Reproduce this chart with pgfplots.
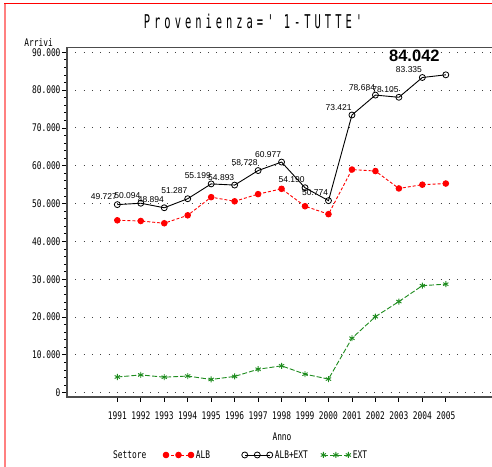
\documentclass[border=0pt]{standalone}
\usepackage{pgfplots}
\pgfplotsset{compat=1.18}
\usepackage{fontspec}
\setmainfont{Liberation Sans}
\newfontfamily\monofont[FakeStretch=0.75]{DejaVu Sans Mono}
\newfontfamily\titlefont[FakeStretch=0.55, LetterSpace=21]{DejaVu Sans Mono}
\definecolor{albred}{RGB}{255,0,0}
\definecolor{extgreen}{RGB}{30,140,30}
\definecolor{borderpink}{RGB}{255,128,128}
\newcommand{\tickfont}{\monofont\fontsize{10.5bp}{11bp}\selectfont}
\begin{document}
\begin{tikzpicture}[x=1bp,y=1bp]
\useasboundingbox (0,0) rectangle (492,467);
\clip (0,0) rectangle (492,467);
\fill[white] (0,0) rectangle (492,467);
\draw[borderpink, line width=2bp] (5,0) -- (5,463.5);
\draw[albred, line width=1bp] (4,463.5) -- (492,463.5);
\node[anchor=west, font=\tickfont, inner sep=0pt] at (113,12) {Settore};
\begin{axis}[
  at={(67bp,70bp)}, anchor=south west, scale only axis,
  width=433bp, height=349.3bp,
  xmin=1988.856, xmax=2007.31, ymin=-1137, ymax=91216,
  axis line style={gray!60!black, line width=1.1bp},
  xtick={1991,...,2005}, minor x tick num=3,
  ytick={0,10000,...,90000}, minor y tick num=4,
  tick align=outside, tick pos=left,
  major tick length=5bp, minor tick length=3bp,
  tick style={black, line width=0.8bp},
  scaled y ticks=false,
  ymajorgrids,
  grid style={black!75, line width=0.9bp, dash pattern=on 1bp off 7.3bp},
  ticklabel style={font=\tickfont, /pgf/number format/assume math mode=true},
  xticklabel style={yshift=-6bp, /pgf/number format/.cd, 1000 sep={}},
  yticklabel style={xshift=2bp, /pgf/number format/.cd, 1000 sep={.}, fixed, precision=0},
  title={Provenienza=' 1-TUTTE'},
  title style={font=\titlefont\fontsize{19bp}{19bp}\selectfont, at={(axis description cs:0.4296,1.0593)}, anchor=center, inner sep=0pt},
  xlabel={Anno},
  xlabel style={font=\tickfont, at={(axis description cs:0.4965,-0.1145)}, anchor=center, inner sep=0pt},
  ylabel={Arrivi},
  ylabel style={font=\tickfont, rotate=-90, at={(axis description cs:-0.0323,1.003)}, anchor=south east, inner sep=0pt},
  legend columns=3,
  legend style={draw=none, fill=none, inner sep=0pt, font=\tickfont,
    at={(axis description cs:0.2217,-0.166)}, anchor=west},
  legend image code/.code={\draw[#1] plot coordinates {(0bp,0bp) (12.5bp,0bp) (25bp,0bp)};},
]
\addplot[albred, line width=0.9bp, dash pattern=on 3bp off 2bp, mark=*, mark size=2.8bp, mark options={solid}]
 coordinates {(1991,45580) (1992,45400) (1993,44800) (1994,46900) (1995,51700) (1996,50600) (1997,52500) (1998,53900) (1999,49300) (2000,47200) (2001,59000) (2002,58600) (2003,54000) (2004,55000) (2005,55300)};
\addlegendentry{\makebox[44bp][l]{ALB}}
\addplot[black, line width=0.9bp, mark=o, mark size=3bp, mark options={solid, line width=0.8bp},
  point meta=explicit symbolic, nodes near coords,
  every node near coord/.append style={font=\fontsize{8.5bp}{9bp}\selectfont, anchor=south east, inner sep=0pt, yshift=4.5bp, black}]
 coordinates {(1991,49727) [49.727] (1992,50094) [50.094] (1993,48894) [48.894] (1994,51287) [51.287] (1995,55199) [55.199] (1996,54893) [54.893] (1997,58728) [58.728] (1998,60977) [60.977] (1999,54190) [54.190] (2000,50774) [50.774] (2001,73421) [73.421] (2002,78684) [78.684] (2003,78105) [78.105] (2004,83335) [83.335] (2005,84042) []};
\addlegendentry{\makebox[44bp][l]{ALB+EXT}}
\addplot[extgreen, line width=0.9bp, dash pattern=on 5bp off 2bp, mark=asterisk, mark size=3bp, mark options={solid}]
 coordinates {(1991,4150) (1992,4700) (1993,4100) (1994,4400) (1995,3500) (1996,4300) (1997,6200) (1998,7100) (1999,4900) (2000,3600) (2001,14400) (2002,20100) (2003,24100) (2004,28300) (2005,28700)};
\addlegendentry{EXT}
\addplot[draw=none, forget plot, point meta=explicit symbolic, nodes near coords,
  every node near coord/.append style={font=\bfseries\fontsize{16.5bp}{17bp}\selectfont, anchor=south east, inner sep=0pt, xshift=-6bp, yshift=13bp, black}]
 coordinates {(2005,84042) [84.042]};
\end{axis}
\end{tikzpicture}
\end{document}
